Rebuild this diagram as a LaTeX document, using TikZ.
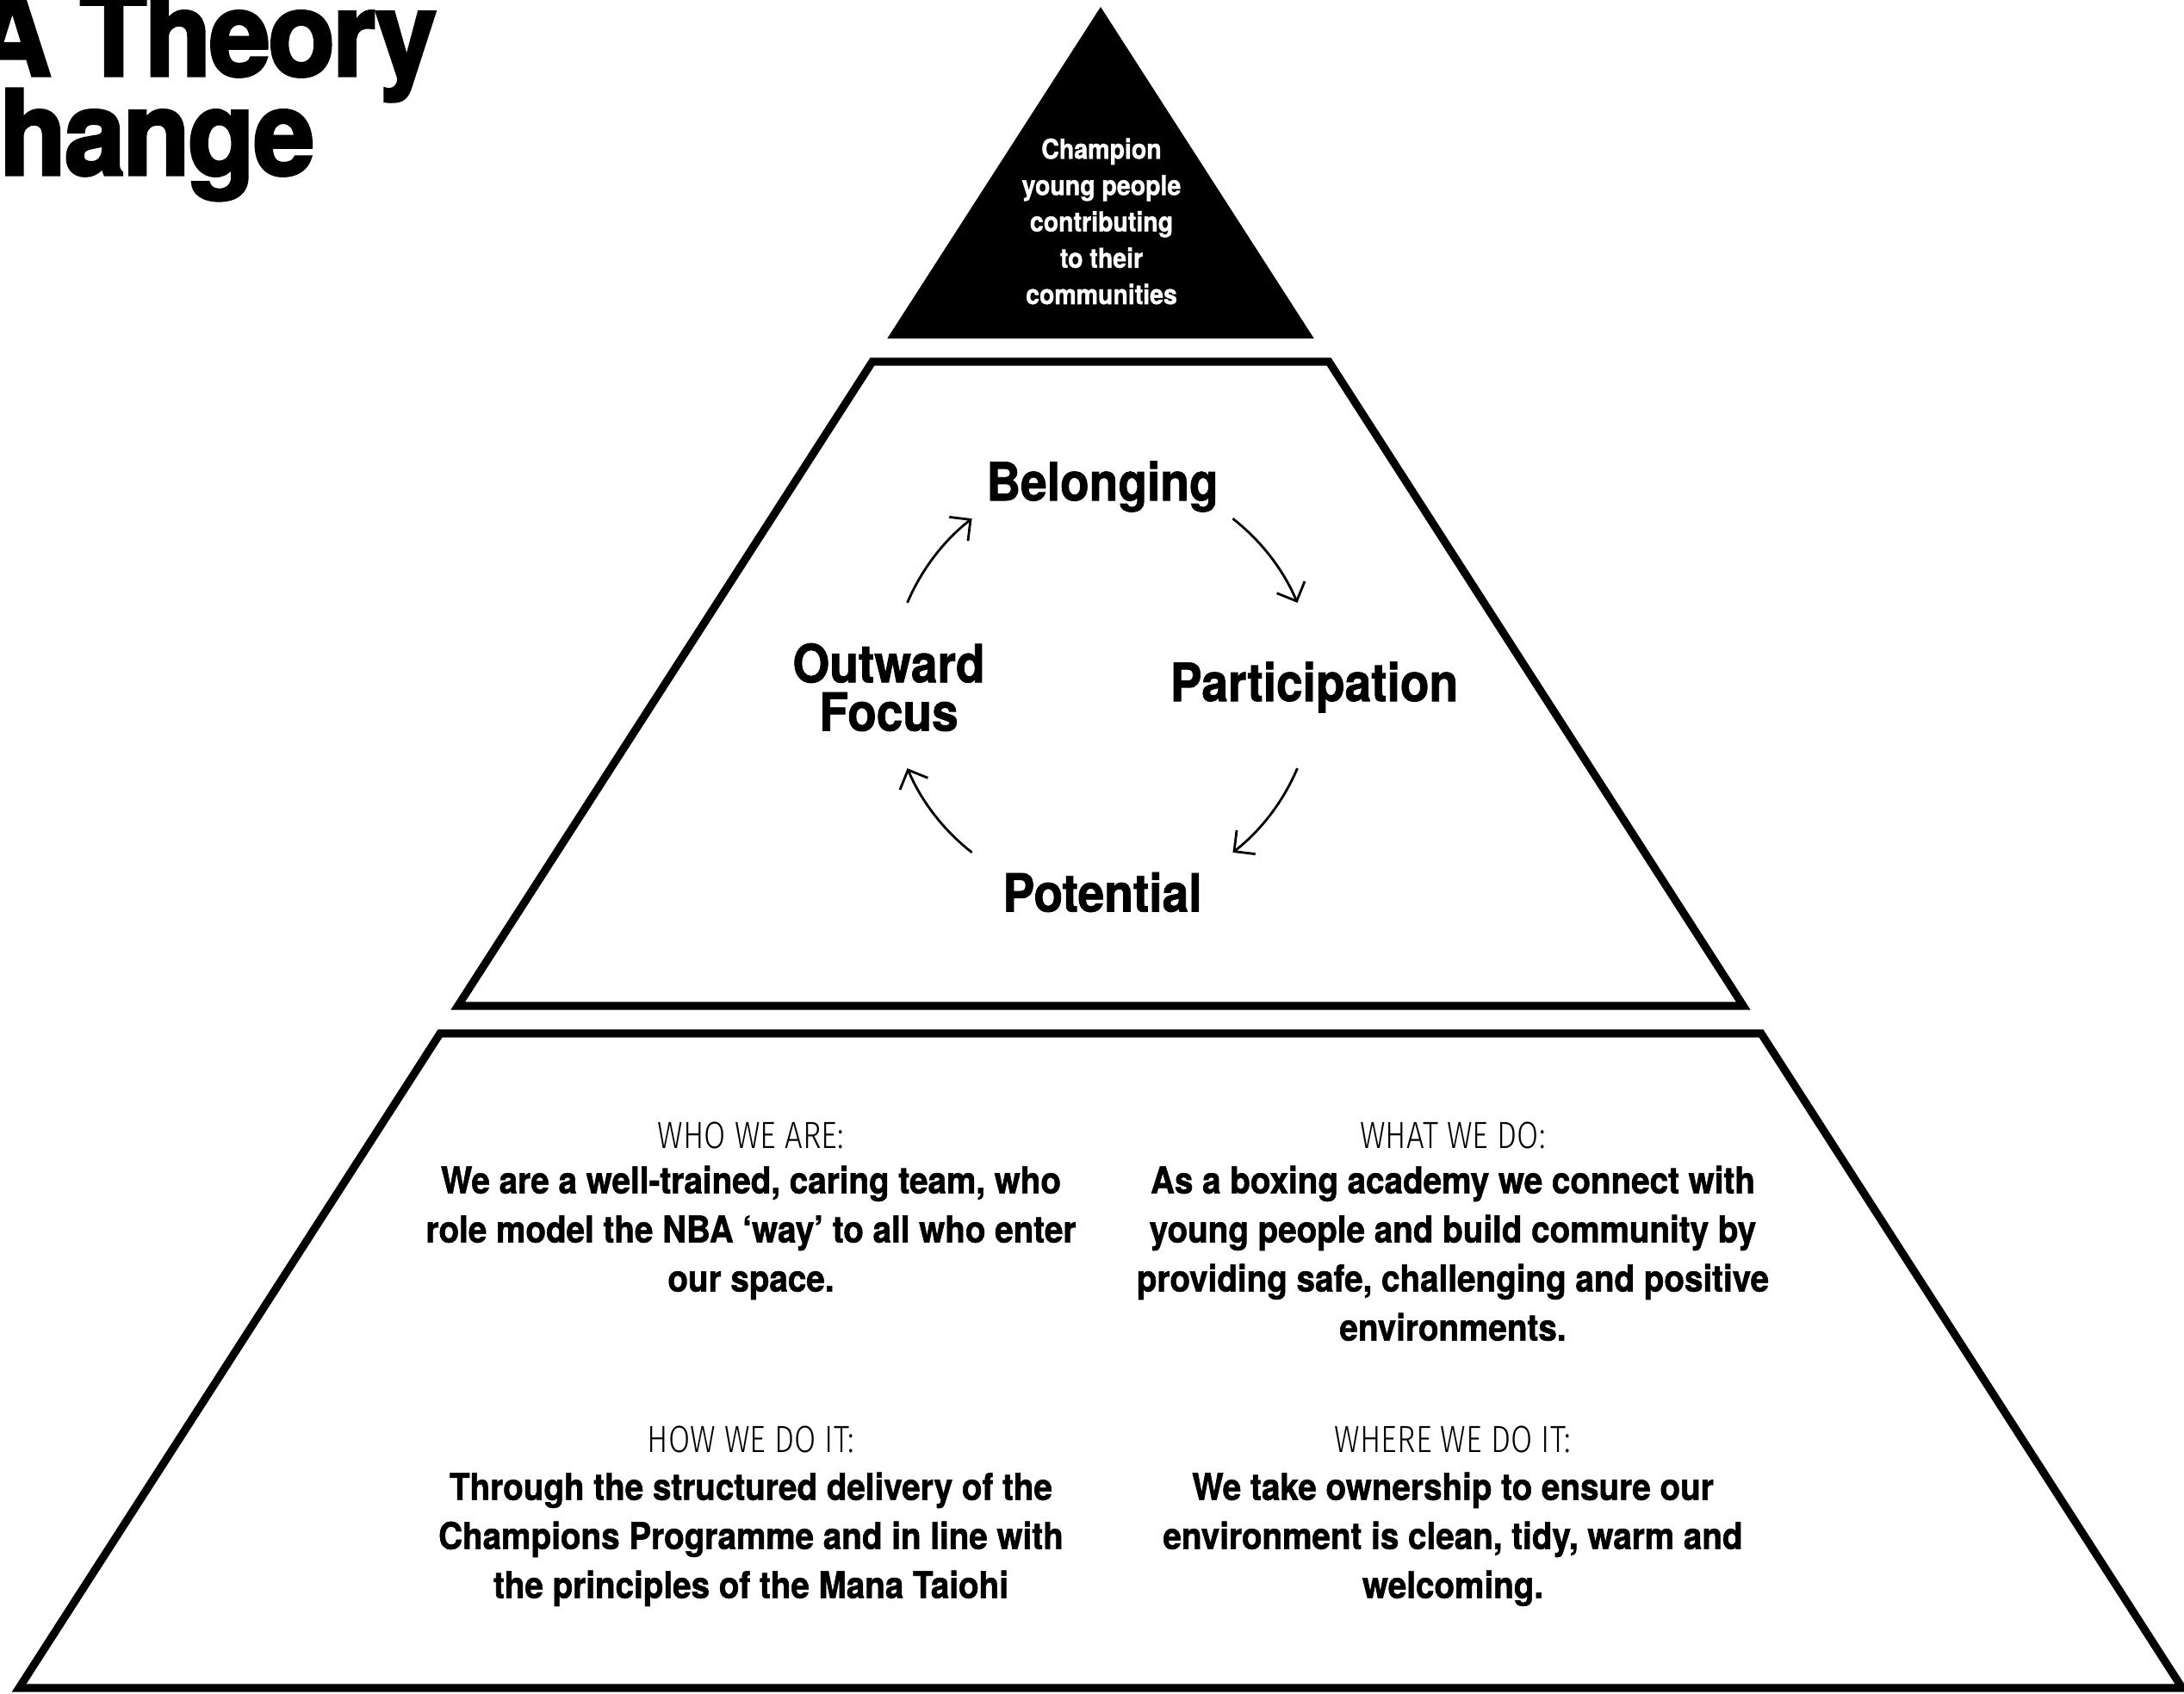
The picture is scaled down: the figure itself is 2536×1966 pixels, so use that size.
\documentclass[tikz,border=0pt]{standalone}
\usepackage{fontspec}
\usetikzlibrary{arrows.meta,calc}
\setmainfont{TeX Gyre Heros}
\newfontfamily\gro[FakeStretch=0.9,BoldFeatures={FakeBold=1.3}]{TeX Gyre Heros}
\newfontfamily\titlef[FakeStretch=0.93,LetterSpace=-2,BoldFeatures={FakeBold=2.5}]{TeX Gyre Heros}
\newfontfamily\lite[UprightFont={* Light},FakeStretch=0.83]{Fira Sans}
\begin{document}
\begin{tikzpicture}[x=0.01cm,y=-0.01cm,
  band/.style={draw=black,line width=2.6pt,line join=miter,fill=white},
  cyclabel/.style={font=\gro\bfseries\fontsize{17.4}{16}\selectfont,align=center,inner sep=0pt},
  hdr/.style={font=\lite\fontsize{12.5}{15}\selectfont,inner sep=0pt,anchor=base},
  body/.style={font=\gro\bfseries\fontsize{12.2}{16.2}\selectfont,align=center,inner sep=0pt,anchor=north},
  arr/.style={line width=0.8pt,-{Straight Barb[length=5pt,width=10pt]}},
  titletext/.style={font=\titlef\bfseries\fontsize{39}{32}\selectfont,anchor=base east,inner sep=0pt}]

\fill[white] (0,0) rectangle (2536,1966);
\useasboundingbox (0,0) rectangle (2536,1966);

% title (cut off at the left edge, as in the reference)
\node[titletext,text depth=0pt] (t1) at (508,88) {A Theory};
\node[titletext] (t2) at (366,203) {Change};

% top triangle
\fill[black] (1278,8) -- (1525.7,393) -- (1030.3,393) -- cycle;
\node[font=\gro\bfseries\fontsize{9}{12}\selectfont,text=white,align=center,inner sep=0pt] (goal) at (1279,257)
  {Champion\\young people\\contributing\\to their\\communities};

% middle band
\draw[band] (1012.9,420) -- (1543.1,420) -- (2024.3,1168) -- (531.7,1168) -- cycle;

% bottom band
\draw[band] (511,1200) -- (2045,1200) -- (2533.9,1960) -- (22.1,1960) -- cycle;

% cycle labels
\node[cyclabel] (bel) at (1280,565) {Belonging};
\node[cyclabel] (par) at (1526,798) {Participation};
\node[cyclabel] (pot) at (1280,1036) {Potential};
\node[cyclabel] (out) at (1032,798) {Outward\\Focus};

\coordinate (cyc) at (1280,796);
\draw[arr] ($(cyc)+(203:246)$) arc[start angle=203,end angle=232,radius=246];
\draw[arr] ($(cyc)+(308:246)$) arc[start angle=308,end angle=337,radius=246];
\draw[arr] ($(cyc)+(23:246)$) arc[start angle=23,end angle=52,radius=246];
\draw[arr] ($(cyc)+(128:246)$) arc[start angle=128,end angle=157,radius=246];

% bottom texts
\node[hdr] (h1) at (872,1333) {WHO WE ARE:};
\node[body] (b1) at (872,1353) {We are a well-trained, caring team, who\\role model the NBA ‘way’ to all who enter\\our space.};
\node[hdr] (h2) at (1687,1333) {WHAT WE DO:};
\node[body] (b2) at (1687,1353) {As a boxing academy we connect with\\young people and build community by\\providing safe, challenging and positive\\environments.};
\node[hdr] (h3) at (872,1686) {HOW WE DO IT:};
\node[body] (b3) at (872,1709) {Through the structured delivery of the\\Champions Programme and in line with\\the principles of the Mana Taiohi};
\node[hdr] (h4) at (1687,1686) {WHERE WE DO IT:};
\node[body] (b4) at (1687,1709) {We take ownership to ensure our\\environment is clean, tidy, warm and\\welcoming.};
\end{tikzpicture}
\end{document}
